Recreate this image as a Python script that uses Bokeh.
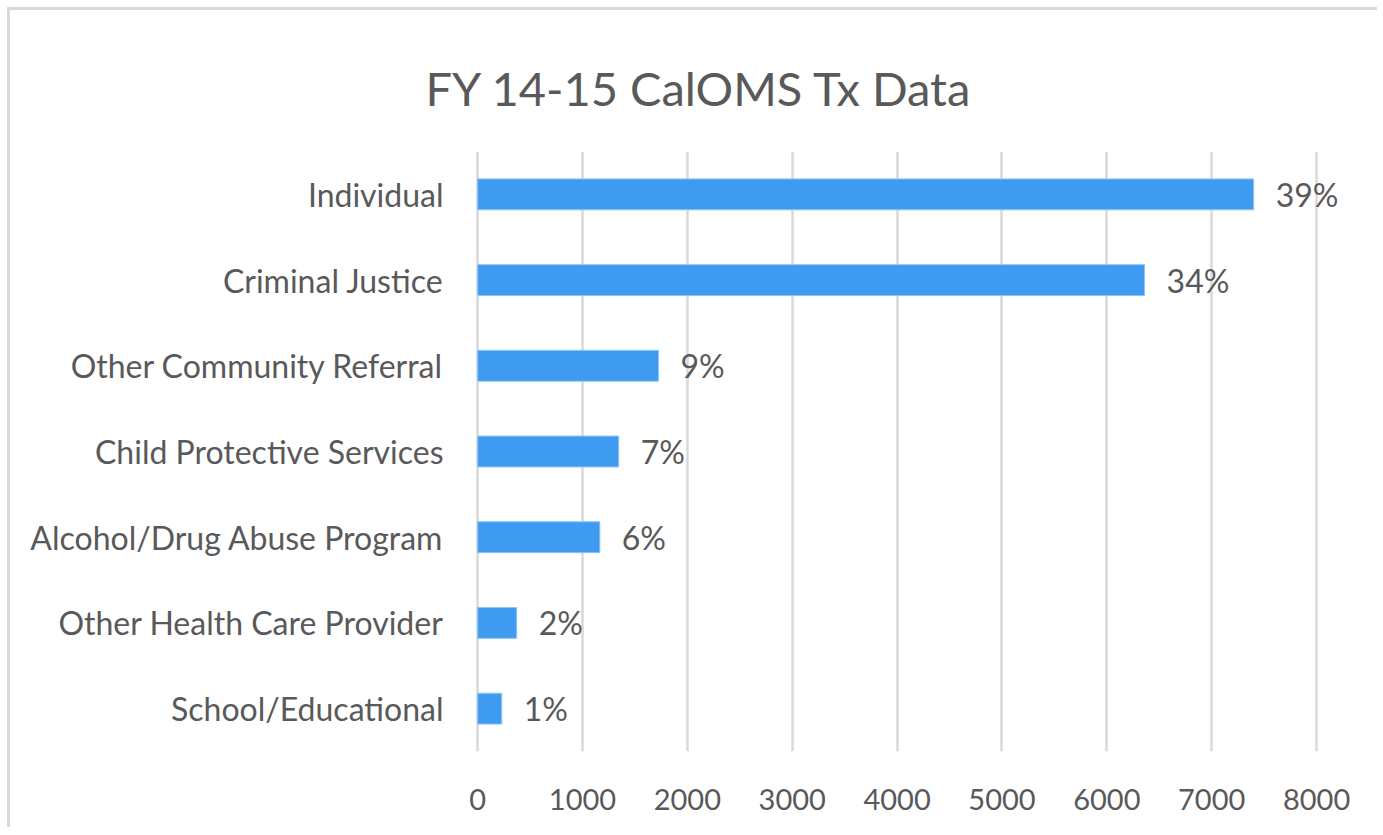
from bokeh.plotting import figure
from bokeh.models import ColumnDataSource, FixedTicker, Range1d
from bokeh.core.properties import value
from bokeh.embed import file_html
from bokeh.resources import INLINE

categories = ["Individual", "Criminal Justice", "Other Community Referral",
              "Child Protective Services", "Alcohol/Drug Abuse Program",
              "Other Health Care Provider", "School/Educational"]
counts = [7400, 6360, 1725, 1345, 1165, 372, 230]
pct_labels = ["39%", "34%", "9%", "7%", "6%", "2%", "1%"]
x_ticks = [0, 1000, 2000, 3000, 4000, 5000, 6000, 7000, 8000]

FONT = "Lato"
TXT = "#595959"

src = ColumnDataSource(dict(cat=categories, val=counts, lab=pct_labels))

p = figure(width=1370, height=820, output_backend="svg", toolbar_location=None,
           y_range=list(reversed(categories)), x_range=Range1d(-30, 8419),
           title="FY 14-15 CalOMS Tx Data",
           min_border_left=464, min_border_right=20, min_border_top=141,
           min_border_bottom=79)
p.styles = {"border-top": "3px solid #d9d9d9", "border-left": "3px solid #d9d9d9",
            "margin-left": "7px", "margin-top": "7px"}

p.hbar(y="cat", right="val", height=0.36, source=src, color="#3E9BF0",
       line_color="#8CC4F5", line_width=1)
p.text(x="val", y="cat", text="lab", source=src, x_offset=22,
       text_align="left", text_baseline="middle", text_color=TXT,
       text_font=value(FONT), text_font_size="32px")

p.title.text_font = FONT
p.title.text_font_size = "47px"
p.title.text_font_style = "normal"
p.title.text_color = TXT
p.title.align = "left"
p.title.offset = -49
p.title.standoff = 71

p.outline_line_color = None
p.background_fill_color = "white"
p.border_fill_color = "white"

p.xaxis.ticker = FixedTicker(ticks=x_ticks)
p.xgrid.ticker = FixedTicker(ticks=x_ticks)
p.xgrid.grid_line_color = "#d9d9d9"
p.xgrid.grid_line_width = 2.5
p.ygrid.grid_line_color = None

for ax in (p.xaxis[0], p.yaxis[0]):
    ax.axis_line_color = None
    ax.major_tick_line_color = None
    ax.minor_tick_line_color = None
    ax.major_label_text_font = FONT
    ax.major_label_text_color = TXT
p.xaxis.major_label_text_font_size = "29px"
p.yaxis.major_label_text_font_size = "32px"
p.xaxis.major_label_standoff = 31
p.yaxis.major_label_standoff = 25

open("out.html", "w").write(file_html(p, INLINE))
